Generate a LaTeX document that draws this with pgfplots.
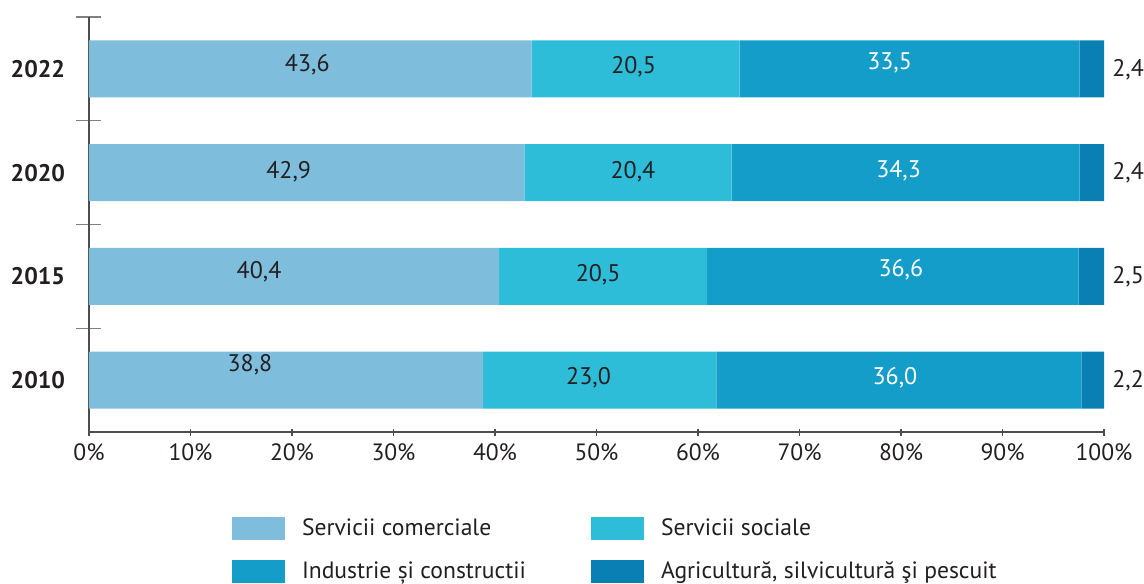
\documentclass[border=0pt]{standalone}
\usepackage{pgfplots}
\pgfplotsset{compat=1.18}
\usepackage{pgfplotstable}
\usepackage{fontspec}
\setmainfont{PT Sans}

\definecolor{ccom}{HTML}{7FBDDD}
\definecolor{csoc}{HTML}{2DBDD8}
\definecolor{cind}{HTML}{139DC8}
\definecolor{cagr}{HTML}{0A7FB4}
\definecolor{ctxt}{HTML}{231F20}
\definecolor{caxis}{HTML}{4D4D4F}

% y: 0=2010 1=2015 2=2020 3=2022; dx dy = label offset in px (dy up)
\pgfplotstableread{
y v dx dy
0 38.8 -36 15
1 40.4 -35 5
2 42.9 -18 1
3 43.6 -3 4
}\com
\pgfplotstableread{
y v dx dy
0 23.0 -11 2
1 20.5 -5 2
2 20.4 5 1
3 20.5 -2 2
}\soc
\pgfplotstableread{
y v dx dy
0 36.0 -4 2
1 36.6 8 7
2 34.3 -7 2
3 33.5 -20 6
}\ind
\pgfplotstableread{
y v dx dy
0 2.2 0 -1
1 2.5 0 0
2 2.4 0 0
3 2.4 0 -1
}\agr

\pgfplotsset{
  vallab/.style={
    nodes near coords={\pgfmathprintnumber[fixed,fixed zerofill,precision=1,use comma]{\pgfplotspointmeta}},
    point meta=explicit,
    visualization depends on={\thisrow{v} \as \segv},
    visualization depends on={\thisrow{dx} \as \ldx},
    visualization depends on={\thisrow{dy} \as \ldy},
  },
  % stacked labels sit in the middle of their segment already
  centerlab/.style={
    vallab,
    every node near coord/.style={anchor=center, inner sep=0pt, text=#1,
      font=\fontsize{12}{14}\selectfont,
      xshift={\ldx*0.5pt}, yshift={\ldy*0.5pt}},
  },
}

\begin{document}
\begin{tikzpicture}
\useasboundingbox (-44.5pt,-75.5pt) rectangle (527.5pt,216pt);
\begin{axis}[
  at={(0,0)}, anchor=south west,
  scale only axis, width=507.5pt, height=207.5pt,
  xbar stacked, bar width=28.5pt,
  xmin=0, xmax=100, ymin=-0.5, ymax=3.5,
  axis lines*=left,
  axis line style={caxis, line width=0.65pt},
  tick align=center,
  /pgf/number format/assume math mode=true,
  xtick={0,10,...,100},
  xticklabel={\pgfmathprintnumber{\tick}\%},
  ytick={0,1,2,3},
  yticklabels={2010,2015,2020,2022},
  minor ytick={0.5,1.5,2.5,3.5},
  major tick length=3.5pt,
  minor tick length=12.5pt,
  major x tick style={caxis, line width=0.65pt},
  major y tick style={draw=none},
  minor y tick style={gray, line width=0.6pt},
  xticklabel style={font=\fontsize{11.8}{14}\selectfont, text=ctxt, inner sep=0pt, yshift=-4pt},
  yticklabel style={font=\fontsize{12}{14}\selectfont\bfseries, text=ctxt, inner sep=0pt, xshift=-10pt},
  legend columns=2,
  legend cell align=left,
  legend image code/.code={\fill[#1] (0pt,-5.75pt) rectangle (26.5pt,5.75pt);},
  legend style={at={(axis description cs:0.1409,-0.205)}, anchor=north west,
    draw=none, inner sep=0pt, outer sep=0pt, column sep=0pt, row sep=10pt,
    font=\fontsize{11.8}{14}\selectfont, text=ctxt,
    /tikz/every odd column/.style={column sep=8.5pt},
    nodes={inner sep=0pt, anchor=west}},
]
\addplot[fill=ccom, draw=none, centerlab=ctxt]
  table[x=v, y=y, meta=v] {\com};
\addlegendentry{\makebox[144.5pt][l]{Servicii comerciale}}
\addplot[fill=csoc, draw=none, centerlab=ctxt]
  table[x=v, y=y, meta=v] {\soc};
\addlegendentry{Servicii sociale}
\addplot[fill=cind, draw=none, centerlab=white]
  table[x=v, y=y, meta=v] {\ind};
\addlegendentry{\makebox[144.5pt][l]{Industrie și constructii}}
\addplot[fill=cagr, draw=none, vallab,
  every node near coord/.style={anchor=west, inner sep=0pt, text=ctxt,
    font=\fontsize{12}{14}\selectfont, xshift={\segv*2.5375pt+4pt}, yshift={\ldy*0.5pt}}]
  table[x=v, y=y, meta=v] {\agr};
\addlegendentry{Agricultură, silvicultură şi pescuit}
\end{axis}
\end{tikzpicture}
\end{document}
